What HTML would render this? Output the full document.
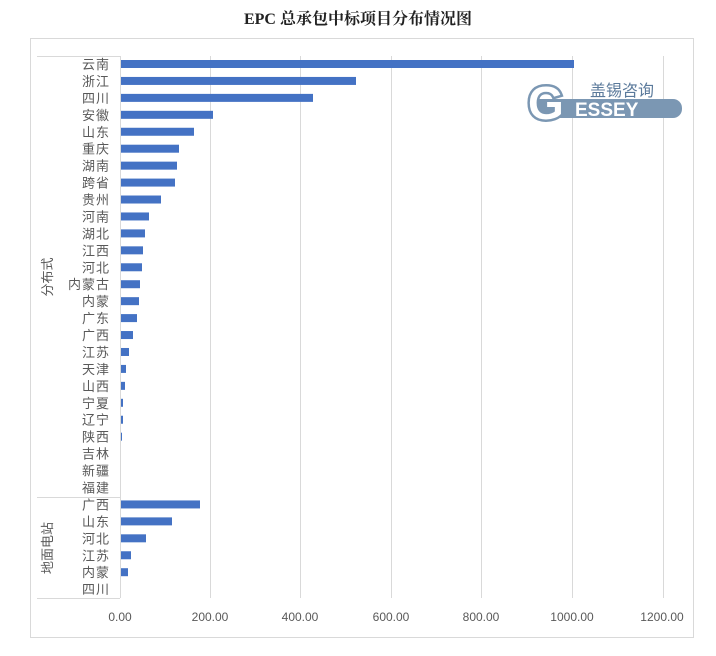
<!DOCTYPE html>
<html><head><meta charset="utf-8"><style>
body{margin:0;background:#fff;}
svg{display:block;font-family:"Liberation Sans","Noto Sans CJK SC",sans-serif;}
</style></head><body>
<svg width="716" height="656" viewBox="0 0 716 656" xmlns="http://www.w3.org/2000/svg">
<rect x="0" y="0" width="716" height="656" fill="#fff"/>
<rect x="30.5" y="38.5" width="663" height="599" fill="none" stroke="#d9d9d9"/>
<text x="358" y="24" text-anchor="middle" font-family="Liberation Serif,Noto Serif CJK SC,serif" font-weight="bold" font-size="16" fill="#222">EPC 总承包中标项目分布情况图</text>
<g stroke="#d9d9d9" stroke-width="1">
<line x1="210.5" y1="56" x2="210.5" y2="598"/>
<line x1="300.5" y1="56" x2="300.5" y2="598"/>
<line x1="391.5" y1="56" x2="391.5" y2="598"/>
<line x1="481.5" y1="56" x2="481.5" y2="598"/>
<line x1="572.5" y1="56" x2="572.5" y2="598"/>
<line x1="663.5" y1="56" x2="663.5" y2="598"/>
<line x1="120.5" y1="56" x2="120.5" y2="598"/>
<line x1="37" y1="56.5" x2="120" y2="56.5"/>
<line x1="37" y1="497.5" x2="120" y2="497.5"/>
<line x1="37" y1="598.5" x2="120" y2="598.5"/>
</g>
<!-- logo -->
<g>
<rect x="530" y="99" width="152" height="19" rx="9" fill="#7b97b3"/>
<text x="528" y="119" font-size="46" font-weight="bold" fill="#fff" stroke="#7b97b3" stroke-width="5" paint-order="stroke">G</text>
<text x="575" y="116" font-size="19" font-weight="bold" fill="#fff">ESSEY</text>
<text x="590" y="96" font-size="16" fill="#5b7a9b">盖锡咨询</text>
</g>
<g fill="#4472c4" id="bars"></g>
<g font-size="13" fill="#595959" text-anchor="end" id="labels"></g>
<text transform="translate(52,277) rotate(-90)" font-size="13" fill="#595959" text-anchor="middle">分布式</text>
<text transform="translate(52,548) rotate(-90)" font-size="13" fill="#595959" text-anchor="middle">地面电站</text>
<g font-size="12" fill="#595959" text-anchor="middle">
<text x="120" y="621">0.00</text><text x="210" y="621">200.00</text><text x="300" y="621">400.00</text><text x="391" y="621">600.00</text><text x="481" y="621">800.00</text><text x="572" y="621">1000.00</text><text x="662" y="621">1200.00</text>
</g>
<script>
var d=[["云南",574],["浙江",356],["四川",313],["安徽",213],["山东",194],["重庆",179],["湖南",177],["跨省",175],["贵州",161],["河南",149],["湖北",145],["江西",143],["河北",142],["内蒙古",140],["内蒙",139],["广东",137],["广西",133],["江苏",129],["天津",126],["山西",125],["宁夏",123],["辽宁",123],["陕西",122],["吉林",0],["新疆",0],["福建",0],["广西",200],["山东",172],["河北",146],["江苏",131],["内蒙",128],["四川",0]];
var b=document.getElementById("bars"),l=document.getElementById("labels"),ns="http://www.w3.org/2000/svg";
d.forEach(function(r,i){var y=64+i*16.94;
if(r[1]>0){var e=document.createElementNS(ns,"rect");e.setAttribute("x",121);e.setAttribute("y",y-4);e.setAttribute("width",r[1]-121);e.setAttribute("height",8);b.appendChild(e);}
var t=document.createElementNS(ns,"text");t.setAttribute("x",110);t.setAttribute("y",y+5);t.setAttribute("letter-spacing","1");t.textContent=r[0];l.appendChild(t);});
</script>
</svg>
</body></html>
